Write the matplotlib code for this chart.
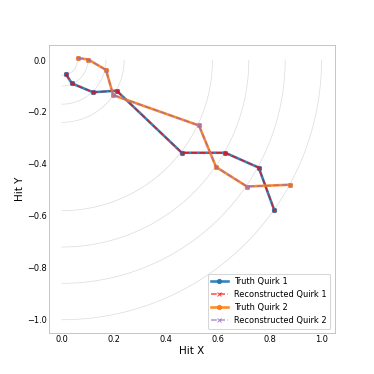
import numpy as np
import matplotlib
matplotlib.use("Agg")
import matplotlib.pyplot as plt

# detector layer radii (quarter arcs around the origin)
layer_radii = [0.06, 0.10, 0.17, 0.24, 0.58, 0.72, 0.86, 1.00]

# hits
truth1_x = [0.016, 0.039, 0.120, 0.211, 0.462, 0.629, 0.758, 0.818]
truth1_y = [-0.055, -0.090, -0.124, -0.118, -0.357, -0.357, -0.414, -0.578]
truth2_x = [0.062, 0.102, 0.170, 0.198, 0.528, 0.594, 0.713, 0.879]
truth2_y = [0.008, 0.002, -0.038, -0.135, -0.252, -0.412, -0.487, -0.480]

# reconstruction matches truth here
reco1_x, reco1_y = truth1_x, truth1_y
reco2_x, reco2_y = truth2_x, truth2_y

fig, ax = plt.subplots(figsize=(5, 5), dpi=74.8)

theta = np.linspace(-np.pi / 2, 0, 200)
for r in layer_radii:
    ax.plot(r * np.cos(theta), r * np.sin(theta), color="#dddddd", lw=0.7, zorder=0)

ax.plot(truth1_x, truth1_y, "-o", color="tab:blue", lw=2.5, ms=4, alpha=0.9, label="Truth Quirk 1")
ax.plot(reco1_x, reco1_y, "--x", color="red", lw=1.5, ms=3, alpha=0.7, label="Reconstructed Quirk 1")
ax.plot(truth2_x, truth2_y, "-o", color="tab:orange", lw=2.5, ms=4, alpha=0.9, label="Truth Quirk 2")
ax.plot(reco2_x, reco2_y, "--x", color="tab:purple", lw=1.5, ms=3, alpha=0.7, label="Reconstructed Quirk 2")

ax.set_xlabel("Hit X", labelpad=2)
ax.set_ylabel("Hit Y", labelpad=2)
ax.set_aspect("equal")
ax.set_xticks([0.0, 0.2, 0.4, 0.6, 0.8, 1.0])
ax.set_yticks([0.0, -0.2, -0.4, -0.6, -0.8, -1.0])
ax.tick_params(length=0, labelsize=8, pad=2)
for s in ax.spines.values():
    s.set_color("#bbbbbb")
ax.legend(loc="lower right", fontsize=8)

plt.savefig("out.png", dpi=74.8)
